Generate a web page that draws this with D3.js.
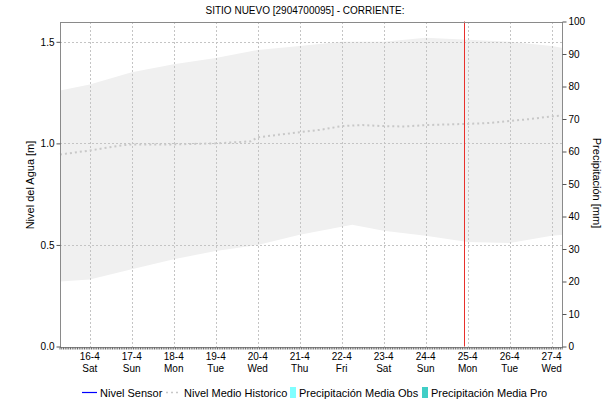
<!DOCTYPE html>
<html>
<head>
<meta charset="utf-8">
<script src="https://cdn.jsdelivr.net/npm/d3@7"></script>
<style>
  body { margin: 0; background: #fff; }
  text { font-family: "Liberation Sans", Arial, sans-serif; fill: #000; }
</style>
</head>
<body>
<script>
// chart data
var titleText = "SITIO NUEVO [2904700095] - CORRIENTE:";
var startTime = "2022-04-15T07:00",
    endTime = "2022-04-27T06:30",
    nowTime = "2022-04-24T22:00";

var dayTicks = ["2022-04-16", "2022-04-17", "2022-04-18", "2022-04-19", "2022-04-20", "2022-04-21",
                "2022-04-22", "2022-04-23", "2022-04-24", "2022-04-25", "2022-04-26", "2022-04-27"];

// historical range band (m)
var bandTimes = ["2022-04-15T07:00", "2022-04-16T00:00", "2022-04-17T00:00", "2022-04-18T00:00",
                 "2022-04-19T00:00", "2022-04-20T00:00", "2022-04-21T00:00", "2022-04-22T00:00",
                 "2022-04-22T06:00", "2022-04-23T00:00", "2022-04-24T00:00", "2022-04-25T00:00",
                 "2022-04-26T00:00", "2022-04-27T00:00", "2022-04-27T06:30"];
var bandUpper = [1.26, 1.29, 1.35, 1.39, 1.42, 1.46, 1.48, 1.50, 1.50, 1.50, 1.52, 1.51, 1.50, 1.48, 1.47];
var bandLower = [0.32, 0.33, 0.38, 0.43, 0.47, 0.50, 0.55, 0.59, 0.60, 0.57, 0.545, 0.515, 0.51, 0.545, 0.55];

// historical mean level (m)
var mediaTimes = ["2022-04-15T07:00", "2022-04-16T00:00", "2022-04-16T18:00", "2022-04-17T00:00",
                  "2022-04-18T00:00", "2022-04-19T00:00", "2022-04-19T20:00", "2022-04-20T00:00",
                  "2022-04-21T00:00", "2022-04-21T12:00", "2022-04-22T00:00", "2022-04-22T12:00",
                  "2022-04-23T00:00", "2022-04-23T12:00", "2022-04-24T00:00", "2022-04-25T00:00",
                  "2022-04-25T12:00", "2022-04-26T00:00", "2022-04-26T12:00", "2022-04-27T00:00",
                  "2022-04-27T06:30"];
var mediaValues = [0.945, 0.965, 0.99, 0.995, 0.995, 1.0, 1.01, 1.03, 1.055, 1.067, 1.085, 1.09,
                   1.085, 1.083, 1.09, 1.096, 1.10, 1.11, 1.12, 1.133, 1.137];

var levelTicks = [0, 0.5, 1.0, 1.5];
var precipTicks = [0, 10, 20, 30, 40, 50, 60, 70, 80, 90, 100];

var legendItems = ["Nivel Sensor", "Nivel Medio Historico", "Precipitación Media Obs", "Precipitación Media Pro"];

/*
Svg Width and Height
*/
var width = 609,
    height = 401;
var plotLeft = 60, plotRight = 563, plotTop = 21.5, plotBottom = 346.5;

var parse = d3.timeParse("%Y-%m-%dT%H:%M"),
    parseDay = d3.timeParse("%Y-%m-%d");

var svg = d3.select("body").append("svg")
    .attr("width", width)
    .attr("height", height)
    .style("display", "block");

var x = d3.scaleTime()
    .domain([parse(startTime), parse(endTime)])
    .range([plotLeft, plotRight]);
var y = d3.scaleLinear().domain([0, 1.6]).range([plotBottom, plotTop]);
var y2 = d3.scaleLinear().domain([0, 100]).range([plotBottom, plotTop]);

var band = bandTimes.map(function(t, i) {
    return { t: parse(t), hi: bandUpper[i], lo: bandLower[i] };
});
var media = mediaTimes.map(function(t, i) {
    return { t: parse(t), v: mediaValues[i] };
});

// band
svg.append("path")
    .datum(band)
    .attr("fill", "#f0f0f0")
    .attr("d", d3.area()
        .x(function(d) { return x(d.t); })
        .y0(function(d) { return y(d.lo); })
        .y1(function(d) { return y(d.hi); }));

// grid
var grid = svg.append("g")
    .attr("stroke", "#c4c4c4")
    .attr("stroke-dasharray", "2,2")
    .attr("shape-rendering", "crispEdges");
grid.selectAll("line.v")
    .data(dayTicks)
    .enter().append("line")
    .attr("x1", function(d) { return Math.round(x(parseDay(d))) + 0.5; })
    .attr("x2", function(d) { return Math.round(x(parseDay(d))) + 0.5; })
    .attr("y1", plotTop)
    .attr("y2", plotBottom);
grid.selectAll("line.h")
    .data(levelTicks.slice(1))
    .enter().append("line")
    .attr("x1", plotLeft)
    .attr("x2", plotRight)
    .attr("y1", function(d) { return Math.round(y(d)) + 0.5; })
    .attr("y2", function(d) { return Math.round(y(d)) + 0.5; });

// historical mean line
svg.append("path")
    .datum(media)
    .attr("fill", "none")
    .attr("stroke", "#c8c8c8")
    .attr("stroke-width", 2)
    .attr("stroke-dasharray", "2,3")
    .attr("d", d3.line()
        .x(function(d) { return x(d.t); })
        .y(function(d) { return y(d.v); }));

// current time line
svg.append("line")
    .attr("x1", Math.round(x(parse(nowTime))) + 0.5)
    .attr("x2", Math.round(x(parse(nowTime))) + 0.5)
    .attr("y1", plotTop)
    .attr("y2", plotBottom)
    .attr("stroke", "#e8302c")
    .attr("stroke-width", 1);

// frame
svg.append("rect")
    .attr("x", plotLeft + 0.5)
    .attr("y", Math.round(plotTop) + 0.5)
    .attr("width", plotRight - plotLeft - 1)
    .attr("height", Math.round(plotBottom) - Math.round(plotTop))
    .attr("fill", "none")
    .attr("stroke", "#8a8a8a")
    .attr("shape-rendering", "crispEdges");

// left axis
var yAxis = svg.append("g")
    .attr("transform", "translate(" + (plotLeft + 0.5) + ",0)")
    .call(d3.axisLeft(y).tickValues(levelTicks).tickFormat(d3.format(".1f")).tickSize(4).tickPadding(2));
yAxis.select(".domain").remove();
yAxis.selectAll("line").attr("stroke", "#555");
yAxis.selectAll("text").style("font-size", "10px").attr("fill", "#000");

// right axis
var y2Axis = svg.append("g")
    .attr("transform", "translate(" + (plotRight - 0.5) + ",0)")
    .call(d3.axisRight(y2).tickValues(precipTicks).tickSize(4).tickPadding(2));
y2Axis.select(".domain").remove();
y2Axis.selectAll("line").attr("stroke", "#555");
y2Axis.selectAll("text").style("font-size", "10px").attr("fill", "#000");

// bottom axis: hourly minor ticks
var hours = d3.timeHour.range(parse(startTime), parse(endTime));
svg.append("g")
    .selectAll("line")
    .data(hours)
    .enter().append("line")
    .attr("x1", function(d) { return x(d); })
    .attr("x2", function(d) { return x(d); })
    .attr("y1", Math.round(plotBottom) + 0.5)
    .attr("y2", Math.round(plotBottom) + 2.5)
    .attr("stroke", "#444")
    .attr("stroke-width", 0.8);

var fmtDay = d3.timeFormat("%-d-%-m"),
    fmtWeek = d3.timeFormat("%a");
var xl = svg.append("g").selectAll("text")
    .data(dayTicks)
    .enter().append("text")
    .attr("x", function(d) { return x(parseDay(d)); })
    .attr("text-anchor", "middle")
    .style("font-size", "10px");
xl.append("tspan").attr("x", function(d) { return x(parseDay(d)); }).attr("y", 360)
    .text(function(d) { return fmtDay(parseDay(d)); });
xl.append("tspan").attr("x", function(d) { return x(parseDay(d)); }).attr("y", 372)
    .text(function(d) { return fmtWeek(parseDay(d)); });

// titles
svg.append("text")
    .attr("x", 305)
    .attr("y", 14)
    .attr("text-anchor", "middle")
    .style("font-size", "10px")
    .text(titleText);

svg.append("text")
    .attr("transform", "translate(34," + 185 + ") rotate(-90)")
    .attr("text-anchor", "middle")
    .style("font-size", "11px")
    .text("Nivel del Agua [m]");

svg.append("text")
    .attr("transform", "translate(593," + 183 + ") rotate(90)")
    .attr("text-anchor", "middle")
    .style("font-size", "11px")
    .text("Precipitación [mm]");

// legend
var ly = 393;
var lg = svg.append("g").style("font-size", "11px");
lg.append("line").attr("x1", 82).attr("x2", 97).attr("y1", ly - 0.5).attr("y2", ly - 0.5)
    .attr("stroke", "#0000ff").attr("stroke-width", 1.2);
lg.append("text").attr("x", 100).attr("y", ly + 4).text(legendItems[0]);
lg.append("line").attr("x1", 166).attr("x2", 181).attr("y1", ly - 0.5).attr("y2", ly - 0.5)
    .attr("stroke", "#c8c8c8").attr("stroke-width", 1.5).attr("stroke-dasharray", "2,3");
lg.append("text").attr("x", 184).attr("y", ly + 4).text(legendItems[1]);
lg.append("rect").attr("x", 290).attr("y", ly - 6).attr("width", 6).attr("height", 11).attr("fill", "#80ffff");
lg.append("text").attr("x", 299).attr("y", ly + 4).text(legendItems[2]);
lg.append("rect").attr("x", 422).attr("y", ly - 6).attr("width", 6).attr("height", 11).attr("fill", "#40cec6");
lg.append("text").attr("x", 431).attr("y", ly + 4).text(legendItems[3]);
</script>
</body>
</html>
